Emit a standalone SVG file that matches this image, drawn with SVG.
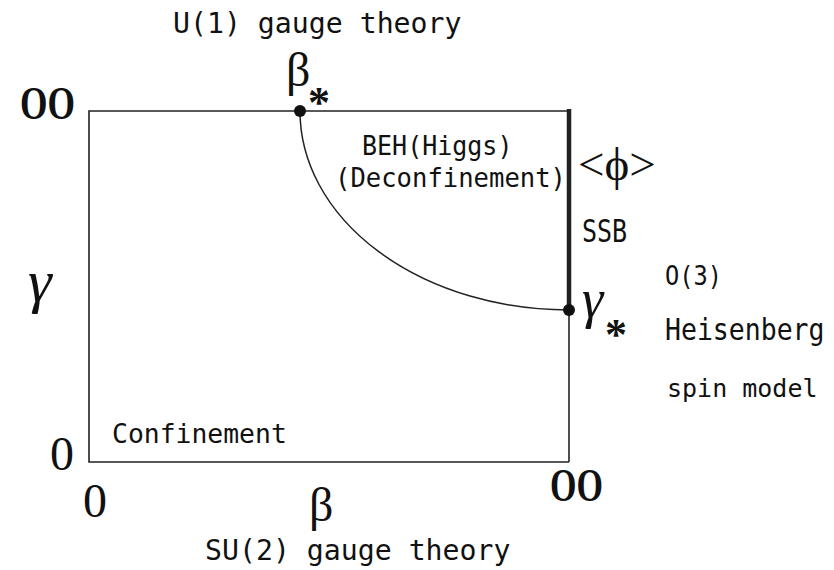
<svg xmlns="http://www.w3.org/2000/svg" width="834" height="570" viewBox="0 0 834 570">
<style>
.t{font-family:"DejaVu Sans Mono","Liberation Mono",monospace;fill:#111}
.g{font-family:"Liberation Serif","DejaVu Serif",serif;fill:#111}
.gi{font-family:"Liberation Serif","DejaVu Serif",serif;font-style:italic;fill:#111}
.inf{font-family:"Liberation Serif",serif;font-weight:bold;font-size:46px;fill:#111}
.dot{fill:#111}
</style>
<rect width="834" height="570" fill="#fff"/>
<g id="connectors" fill="none" stroke="#222">
<path d="M569,462 L89,462 L89,111 L569,111" stroke-width="1.6"/>
<line x1="569" y1="310" x2="569" y2="462" stroke-width="1.6"/>
<line x1="569" y1="109" x2="569" y2="310" stroke-width="4.5"/>
<path d="M300,111 A269,199 0 0 0 569,310" stroke-width="1.5"/>
</g>
<g id="beta-star">
<circle class="dot" cx="300" cy="111" r="6"/>
<text class="g" x="286" y="86" font-size="48">β</text>
<text class="g" x="308" y="117" font-size="44" font-weight="bold">*</text>
</g>
<g id="gamma-star">
<circle class="dot" cx="569" cy="310" r="6"/>
<text class="gi" x="582" y="317" font-size="54">γ</text>
<text class="g" x="605" y="349" font-size="44" font-weight="bold">*</text>
</g>
<g id="titles">
<text class="t" x="173" y="33" font-size="28.2">U(1) gauge theory</text>
<text class="t" x="205" y="560" font-size="28.2">SU(2) gauge theory</text>
</g>
<g id="regions">
<text class="t" transform="translate(362,155) scale(1,1.06)" font-size="25">BEH(Higgs)</text>
<text class="t" transform="translate(335,187) scale(1,1.06)" font-size="25.6">(Deconfinement)</text>
<text class="t" x="112" y="443" font-size="26.4">Confinement</text>
</g>
<g id="ssb">
<text class="g" x="578" y="180" font-size="47">&lt;ϕ&gt;</text>
<text class="t" transform="translate(582,242) scale(1,1.25)" font-size="25">SSB</text>
</g>
<g id="o3">
<text class="t" transform="translate(665,285) scale(1,1.15)" font-size="23.7">O(3)</text>
<text class="t" transform="translate(665,340) scale(1,1.13)" font-size="26.5">Heisenberg</text>
<text class="t" x="667" y="397" font-size="25">spin model</text>
</g>
<g id="axes">
<text class="inf" x="20" y="119" textLength="55" lengthAdjust="spacingAndGlyphs">OO</text>
<text class="inf" x="550" y="501" textLength="53" lengthAdjust="spacingAndGlyphs">OO</text>
<text class="gi" x="28" y="301" font-size="60">γ</text>
<text class="g" x="50" y="470" font-size="48">0</text>
<text class="g" x="83" y="517" font-size="48">0</text>
<text class="g" x="309" y="521" font-size="48">β</text>
</g>
</svg>
